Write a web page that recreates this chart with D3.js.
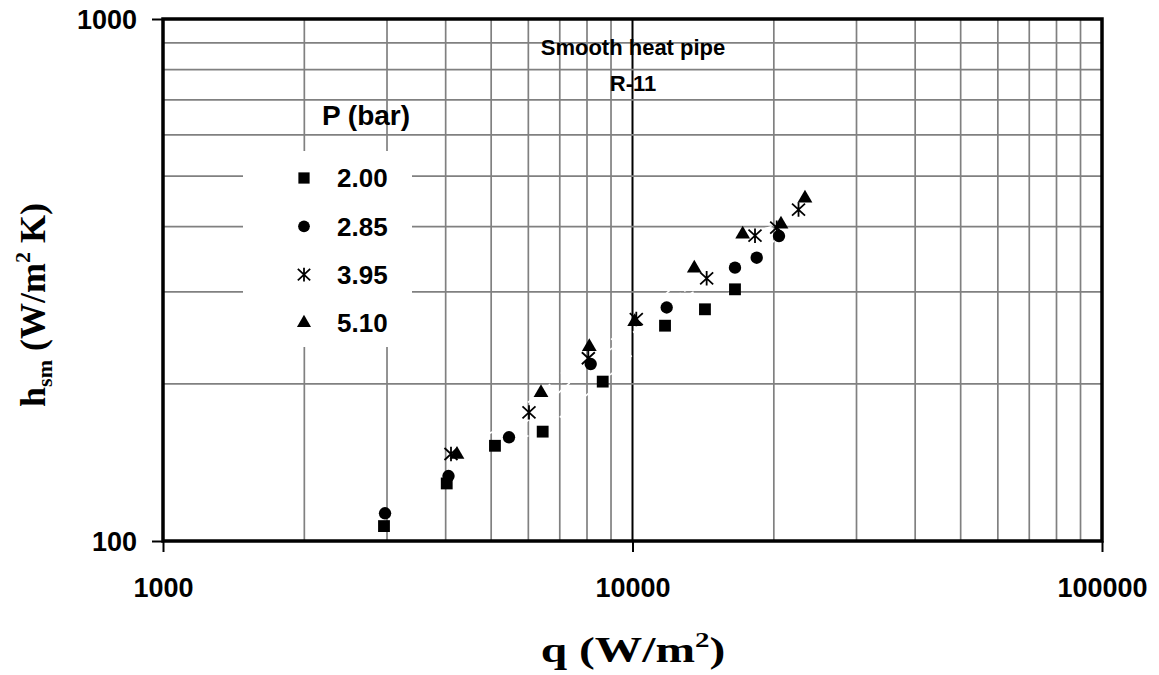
<!DOCTYPE html>
<html>
<head>
<meta charset="utf-8">
<script src="https://cdn.jsdelivr.net/npm/d3@7"></script>
<style>
  body { margin: 0; background: #fff; }
  svg { display: block; }
</style>
</head>
<body>
<div id="chart"></div>
<script>
// pressure series (bar) and readings: q in W/m2, h in W/m2K
const pressures = ["2.00", "2.85", "3.95", "5.10"];

const q200 = [2956, 4021, 5094, 6437, 8641, 11729, 14267, 16530];
const h200 = [106.8, 128.9, 152.2, 162.0, 202.0, 258.5, 277.9, 303.5];

const q285 = [2971, 4056, 5457, 8147, 11826, 16530, 18390, 20513];
const h285 = [113.0, 133.2, 158.0, 218.3, 280.1, 333.9, 348.9, 383.9];

const q395 = [4106, 6019, 8052, 10188, 14386, 18236, 20283, 22574];
const h395 = [146.8, 176.4, 223.9, 266.2, 318.6, 384.5, 398.3, 431.5];

const q510 = [4228, 6384, 8091, 10108, 13540, 17165, 20715, 23300];
const h510 = [146.4, 192.3, 235.6, 263.1, 333.0, 386.9, 404.3, 453.4];

const xDomain = [1000, 100000];
const yDomain = [100, 1000];
const xTickValues = [1000, 10000, 100000];
const yTickValues = [100, 1000];

const series = [
  { label: pressures[0], q: q200, h: h200, shape: "square" },
  { label: pressures[1], q: q285, h: h285, shape: "circle" },
  { label: pressures[2], q: q395, h: h395, shape: "star" },
  { label: pressures[3], q: q510, h: h510, shape: "triangle" }
];

const W = 1159, H = 675;
const plot = { left: 163, right: 1102, top: 19, bottom: 541 };

const svg = d3.select("#chart").append("svg")
  .attr("width", W)
  .attr("height", H);

const x = d3.scaleLog().domain(xDomain).range([plot.left, plot.right]);
const y = d3.scaleLog().domain(yDomain).range([plot.bottom, plot.top]);

const sans = "'Liberation Sans', Arial, sans-serif";
const serif = "'Liberation Serif', 'Times New Roman', serif";

// grid
const grid = svg.append("g");
grid.selectAll(".vgrid")
  .data(x.ticks().filter(d => d > xDomain[0] && d < xDomain[1]))
  .join("line")
  .attr("x1", d => x(d)).attr("x2", d => x(d))
  .attr("y1", plot.top).attr("y2", plot.bottom)
  .attr("stroke", d => d === 10000 ? "#000" : "#808080")
  .attr("stroke-width", d => d === 10000 ? 2 : 1.7);

grid.selectAll(".hgrid")
  .data(y.ticks().filter(d => d > yDomain[0] && d < yDomain[1]))
  .join("line")
  .attr("x1", plot.left).attr("x2", plot.right)
  .attr("y1", d => y(d)).attr("y2", d => y(d))
  .attr("stroke", "#808080")
  .attr("stroke-width", 1.7);

// white dashed connector lines (only show where they cross the grid)
const line = d3.line().x(d => x(d[0])).y(d => y(d[1]));
svg.append("g").selectAll("path")
  .data(series)
  .join("path")
  .attr("d", s => line(d3.zip(s.q, s.h)))
  .attr("fill", "none")
  .attr("stroke", "#fff")
  .attr("stroke-width", 1.6)
  .attr("stroke-dasharray", "7,4");

// legend box
const legend = svg.append("g");
legend.append("rect")
  .attr("x", 243).attr("y", 151)
  .attr("width", 169).attr("height", 196)
  .attr("fill", "#fff");

// plot border
svg.append("rect")
  .attr("x", plot.left).attr("y", plot.top)
  .attr("width", plot.right - plot.left)
  .attr("height", plot.bottom - plot.top)
  .attr("fill", "none")
  .attr("stroke", "#000")
  .attr("stroke-width", 3.5);

// axes
const xAxis = svg.append("g")
  .attr("transform", `translate(0,${plot.bottom})`)
  .call(d3.axisBottom(x).tickValues(xTickValues).tickSize(11).tickFormat(d3.format("d")));
xAxis.select(".domain").remove();
xAxis.selectAll("line").attr("stroke", "#000").attr("stroke-width", 2);
xAxis.selectAll("text")
  .attr("y", 56).attr("dy", null)
  .attr("font-family", sans).attr("font-weight", "bold")
  .attr("font-size", 27).attr("fill", "#000");

const yAxis = svg.append("g")
  .attr("transform", `translate(${plot.left},0)`)
  .call(d3.axisLeft(y).tickValues(yTickValues).tickSize(11).tickPadding(15).tickFormat(d3.format("d")));
yAxis.select(".domain").remove();
yAxis.selectAll("line").attr("stroke", "#000").attr("stroke-width", 2);
yAxis.selectAll("text")
  .attr("dy", "0.36em")
  .attr("font-family", sans).attr("font-weight", "bold")
  .attr("font-size", 27).attr("fill", "#000");

// markers
function symbolPath(shape, k) {
  if (shape === "star") {
    const a = 6.5 * k, b = 6 * k, c = 7.2 * k;
    return `M${-a},${-b}L${a},${b}M${-a},${b}L${a},${-b}M0,${-c}L0,${c}`;
  }
  const types = { square: d3.symbolSquare, circle: d3.symbolCircle, triangle: d3.symbolTriangle };
  const sizes = { square: 140, circle: 120, triangle: 95 };
  return d3.symbol().type(types[shape]).size(sizes[shape] * k * k)();
}

function styleMarker(sel, shape) {
  if (shape === "star") {
    sel.attr("fill", "none").attr("stroke", "#000").attr("stroke-width", 1.8);
  } else {
    sel.attr("fill", "#000").attr("stroke", "none");
  }
}

series.forEach(s => {
  const g = svg.append("g");
  g.selectAll("path")
    .data(d3.zip(s.q, s.h))
    .join("path")
    .attr("transform", d => `translate(${x(d[0])},${y(d[1])})`)
    .attr("d", symbolPath(s.shape, 1))
    .call(styleMarker, s.shape);
});

// legend entries
legend.append("text")
  .attr("x", 366).attr("y", 125)
  .attr("text-anchor", "middle")
  .attr("font-family", sans).attr("font-weight", "bold")
  .attr("font-size", 28)
  .text("P (bar)");

series.forEach((s, i) => {
  const cy = 178 + i * 48.3;
  legend.append("path")
    .attr("transform", `translate(304,${cy})`)
    .attr("d", symbolPath(s.shape, 0.95))
    .call(styleMarker, s.shape);
  legend.append("text")
    .attr("x", 337).attr("y", cy)
    .attr("dy", "0.36em")
    .attr("font-family", sans).attr("font-weight", "bold")
    .attr("font-size", 26)
    .text(s.label);
});

// annotation
svg.append("text")
  .attr("x", 633).attr("y", 55)
  .attr("text-anchor", "middle")
  .attr("font-family", sans).attr("font-weight", "bold")
  .attr("font-size", 22)
  .text("Smooth heat pipe");
svg.append("text")
  .attr("x", 633).attr("y", 91)
  .attr("text-anchor", "middle")
  .attr("font-family", sans).attr("font-weight", "bold")
  .attr("font-size", 22)
  .text("R-11");

// axis titles
const xt = svg.append("text")
  .attr("transform", "translate(633,662) scale(1.32,1)")
  .attr("text-anchor", "middle")
  .attr("font-family", serif).attr("font-weight", "bold")
  .attr("font-size", 36);
xt.append("tspan").text("q (W/m");
xt.append("tspan").attr("font-size", 22).attr("dy", -15).text("2");
xt.append("tspan").attr("dy", 15).text(")");

const yt = svg.append("text")
  .attr("transform", "translate(45,305) rotate(-90)")
  .attr("text-anchor", "middle")
  .attr("font-family", serif).attr("font-weight", "bold")
  .attr("font-size", 36);
yt.append("tspan").text("h");
yt.append("tspan").attr("font-size", 22).attr("dy", 7).text("sm");
yt.append("tspan").attr("dy", -7).text(" (W/m");
yt.append("tspan").attr("font-size", 22).attr("dy", -15).text("2");
yt.append("tspan").attr("dy", 15).text(" K)");
</script>
</body>
</html>
